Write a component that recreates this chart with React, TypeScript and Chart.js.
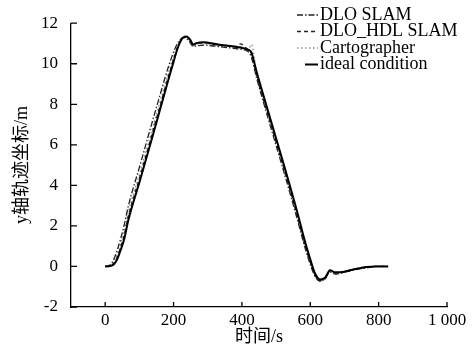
import React, { useEffect, useRef } from 'react';
import { Chart, registerables } from 'chart.js';

Chart.register(...registerables);

// ---- data ----
const timeS = [0, 15, 25, 35, 45, 55, 68, 102, 150, 195, 215, 228, 238, 248, 258, 268, 287, 330, 385, 395, 418, 428, 443, 482, 517, 560, 585, 600, 614, 629, 643, 658, 673, 687, 720, 765, 790, 828];
const dloSlam = [0, 0.08, 0.35, 0.8, 1.35, 2.0, 3.0, 5.0, 7.85, 10.35, 11.1, 11.28, 11.25, 11.05, 10.85, 10.88, 10.92, 10.85, 10.74, 10.72, 10.6, 10.3, 9.3, 7.0, 5.0, 2.45, 0.9, 0.1, -0.5, -0.74, -0.6, -0.28, -0.38, -0.34, -0.2, -0.07, 0, 0];
const dloHdlSlam = [0, 0.03, 0.15, 0.45, 0.95, 1.5, 2.5, 4.45, 7.3, 9.95, 10.95, 11.28, 11.33, 11.18, 10.93, 11.0, 11.03, 10.92, 10.85, 10.98, 10.68, 10.5, 9.4, 7.15, 5.15, 2.6, 1.0, 0.2, -0.44, -0.7, -0.62, -0.22, -0.34, -0.3, -0.16, -0.04, 0, 0];
const cartographer = [0, 0.05, 0.25, 0.6, 1.1, 1.7, 2.7, 4.65, 7.5, 10.1, 11.0, 11.3, 11.3, 11.15, 10.9, 10.97, 11.0, 10.9, 10.8, 10.85, 10.66, 10.95, 9.5, 7.25, 5.25, 2.7, 1.1, 0.3, -0.4, -0.66, -0.58, -0.2, -0.3, -0.28, -0.15, -0.03, 0, 0];
const idealCondition = [0, 0.02, 0.1, 0.35, 0.8, 1.3, 2.3, 4.25, 7.1, 9.8, 10.9, 11.3, 11.35, 11.2, 10.95, 11.02, 11.06, 10.95, 10.83, 10.8, 10.7, 10.55, 9.6, 7.35, 5.35, 2.8, 1.2, 0.35, -0.35, -0.64, -0.56, -0.19, -0.29, -0.29, -0.17, -0.03, 0, 0];
const seriesNames = ['DLO SLAM', 'DLO_HDL SLAM', 'Cartographer', 'ideal condition'];
const xTickValues = [0, 200, 400, 600, 800, 1000];
const yTickValues = [-2, 0, 2, 4, 6, 8, 10, 12];
const xTitle = '时间/s';
const yTitle = 'y轴轨迹坐标/m';

const SERIF = '"Liberation Serif", "Times New Roman", serif';
const TITLE_FONT = '"Liberation Serif", "Noto Sans CJK SC", serif';

const toPts = (ys: number[]) => ys.map((y, i) => ({ x: timeS[i], y }));

const fmtTick = (v: number) => String(v).replace(/\B(?=(\d{3})+(?!\d))/g, ' ');

const innerTicksPlugin = {
  id: 'innerTicks',
  afterDraw(chart: any) {
    const { ctx, chartArea, scales } = chart;
    ctx.save();
    ctx.strokeStyle = '#000';
    ctx.lineWidth = 1.3;
    ctx.beginPath();
    for (const v of yTickValues) {
      const p = scales.y.getPixelForValue(v);
      ctx.moveTo(chartArea.left, p);
      ctx.lineTo(chartArea.left + 6, p);
    }
    for (const v of xTickValues) {
      const p = scales.x.getPixelForValue(v);
      ctx.moveTo(p, chartArea.bottom);
      ctx.lineTo(p, chartArea.bottom - 5);
    }
    ctx.stroke();
    ctx.restore();
  },
};

const legendPlugin = {
  id: 'customLegend',
  afterDraw(chart: any) {
    const { ctx } = chart;
    const sx = 297;
    const ex = 318;
    const tx = 320;
    const y0 = 15;
    const dy = 16.5;
    ctx.save();
    seriesNames.forEach((name, i) => {
      const ds = chart.data.datasets.find((d: any) => d.label === name);
      const y = y0 + i * dy;
      ctx.beginPath();
      ctx.strokeStyle = ds.borderColor;
      ctx.lineWidth = ds.borderWidth;
      ctx.setLineDash(ds.borderDash || []);
      ctx.moveTo(i === 3 ? 305 : sx, y);
      ctx.lineTo(ex, y);
      ctx.stroke();
      ctx.setLineDash([]);
      ctx.fillStyle = '#000';
      ctx.font = `18px ${SERIF}`;
      ctx.textBaseline = 'middle';
      ctx.textAlign = 'left';
      ctx.fillText(name, tx, y);
    });
    ctx.restore();
  },
};

export default function App() {
  const ref = useRef<HTMLCanvasElement>(null);
  useEffect(() => {
    if (!ref.current) return;
    const common = { pointRadius: 0, fill: false, cubicInterpolationMode: 'monotone' as const };
    const chart = new Chart(ref.current, {
      type: 'line',
      data: {
        datasets: [
          { ...common, label: seriesNames[0], data: toPts(dloSlam), borderColor: '#222', borderWidth: 1.3, borderDash: [6, 2, 1.5, 2], order: 2 },
          { ...common, label: seriesNames[1], data: toPts(dloHdlSlam), borderColor: '#222', borderWidth: 1.3, borderDash: [4, 3], order: 1 },
          { ...common, label: seriesNames[2], data: toPts(cartographer), borderColor: '#888', borderWidth: 1.3, borderDash: [1.5, 2.5], order: 3 },
          { ...common, label: seriesNames[3], data: toPts(idealCondition), borderColor: '#000', borderWidth: 2, borderDash: [], order: 0 },
        ],
      },
      options: {
        animation: false,
        responsive: true,
        maintainAspectRatio: false,
        layout: { padding: { top: 15, right: 25, left: 0, bottom: 0 } },
        plugins: { legend: { display: false }, tooltip: { enabled: false } },
        scales: {
          x: {
            type: 'linear',
            min: -100,
            max: 1000,
            afterBuildTicks: (s: any) => { s.ticks = xTickValues.map((v) => ({ value: v })); },
            afterFit: (s: any) => { s.height = 41; },
            grid: { drawOnChartArea: false, drawTicks: false },
            border: { display: true, color: '#000', width: 1.3 },
            ticks: { color: '#000', font: { family: SERIF, size: 17 }, padding: 3, maxRotation: 0, autoSkip: false, callback: (v: any) => fmtTick(Number(v)) },
            title: { display: true, text: xTitle, color: '#000', font: { family: TITLE_FONT, size: 18 }, padding: { top: 0, bottom: 0 } },
          },
          y: {
            type: 'linear',
            min: -2,
            max: 12,
            afterBuildTicks: (s: any) => { s.ticks = yTickValues.map((v) => ({ value: v })); },
            afterFit: (s: any) => { s.width = 71; },
            grid: { drawOnChartArea: false, drawTicks: false },
            border: { display: true, color: '#000', width: 1.3 },
            ticks: { color: '#000', font: { family: SERIF, size: 17 }, padding: 13, callback: (v: any) => String(v) },
            title: { display: true, text: yTitle, color: '#000', font: { family: TITLE_FONT, size: 18 }, padding: { top: 11, bottom: 0 } },
          },
        },
      },
      plugins: [innerTicksPlugin, legendPlugin],
    });
    return () => chart.destroy();
  }, []);
  return (
    <div style={{ position: 'fixed', left: 0, top: 0, width: 472, height: 348, background: '#fff' }}>
      <canvas ref={ref} />
    </div>
  );
}
